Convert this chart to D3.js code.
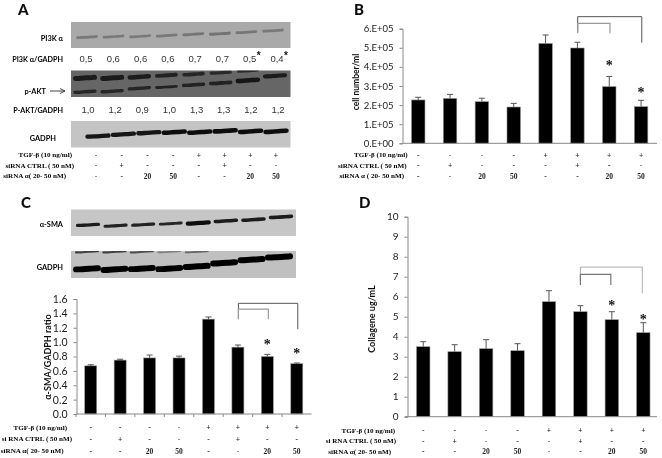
<!DOCTYPE html>
<html>
<head>
<meta charset="utf-8">
<script src="https://cdn.jsdelivr.net/npm/d3@7/dist/d3.min.js"></script>
<style>html,body{margin:0;padding:0;background:#fff}svg{display:block}</style>
</head>
<body>
<svg id="c" width="662" height="458"></svg>
<script>
// ---------- bar chart data ----------
const lanes = [1,2,3,4,5,6,7,8];
const cellValues = [2.27,2.35,2.18,1.90,5.23,4.99,2.97,1.92];
const cellErrors = [0.14,0.21,0.18,0.19,0.44,0.30,0.53,0.33];
const cellTicks = ["0.E+00","1.E+05","2.E+05","3.E+05","4.E+05","5.E+05","6.E+05"];
const smaValues = [0.67,0.75,0.78,0.78,1.32,0.93,0.80,0.70];
const smaErrors = [0.015,0.012,0.04,0.025,0.03,0.03,0.03,0.01];
const smaTicks = ["0.0","0.2","0.4","0.6","0.8","1.0","1.2","1.4","1.6"];
const collagenValues = [3.50,3.25,3.40,3.30,5.75,5.25,4.85,4.20];
const collagenErrors = [0.25,0.35,0.45,0.35,0.55,0.30,0.40,0.50];
const collagenTicks = ["0","1","2","3","4","5","6","7","8","9","10"];
// significance marks: [lane, value level]
const cellStars = [[7,4.15],[8,2.76]];
const smaStars = [[7,0.99],[8,0.86]];
const collagenStars = [[7,5.62],[8,4.95]];
// brackets: [right lane, top, left foot, right foot]
const cellBrackets = [[8,6.63,5.85,5.27],[7,6.28,5.76,5.76]];
const smaBrackets = [[8,1.54,1.32,1.18],[7,1.46,1.32,1.32]];
const collagenBrackets = [[8,7.48,6.72,6.17],[7,7.12,6.58,6.58]];
// treatment rows
const rowTgf = ["-","-","-","-","+","+","+","+"];
const rowCtrl = ["-","+","-","-","-","+","-","-"];
const rowSi = ["-","-","20","50","-","-","20","50"];
// ---------- blot data ----------
const pi3kRatios = ["0,5","0,6","0,6","0,6","0,7","0,7","0,5","0,4"];
const pi3kMarks = ["","","","","","","*","*"];
const aktRatios = ["1,0","1,2","0,9","1,0","1,3","1,3","1,2","1,2"];
const pi3kLevels = [.58,.56,.55,.52,.47,.45,.39,.33];
const pi3kDensity = [.45,.45,.45,.45,.55,.6,.5,.45];
const aktUpperLevels = [.28,.28,.24,.18,.14,.08,.01,-.1];
const aktUpperDensity = [1,1,.85,.7,.6,.5,.4,0];
const aktLowerLevels = [.80,.78,.67,.62,.54,.47,.37,.20];
const aktLowerDensity = [.6,.6,.6,.45,.65,.7,1,.85];
const gapdhALevels = [.57,.50,.44,.42,.42,.37,.39,.39];
const gapdhADensity = [.8,.8,.85,.9,.9,1,.95,.95];
const smaBlotLevels = [.58,.61,.57,.53,.51,.43,.38,.28];
const smaBlotDensity = [.55,.5,.5,.4,.9,.65,.65,.65];
const gapdhCLevels = [.66,.68,.65,.65,.57,.44,.32,.22];
const gapdhCDensity = [.95,.95,.95,.95,1,1,1,1];
const gapdhCTopLevels = [.03,.03,.03,.03,.03,-.2,-.2,-.2];
const gapdhCTopDensity = [.6,.6,.5,.12,.3,0,0,0];

const svg = d3.select("#c");
const defs = svg.append("defs");
defs.append("filter").attr("id","soft").attr("x","-5%").attr("y","-5%").attr("width","110%").attr("height","110%")
  .append("feGaussianBlur").attr("stdDeviation",0.45);
defs.append("filter").attr("id","band").attr("x","-20%").attr("y","-200%").attr("width","140%").attr("height","500%")
  .append("feGaussianBlur").attr("stdDeviation",0.75);
const root = svg.append("g").attr("filter","url(#soft)");
root.append("rect").attr("width",662).attr("height",458).attr("fill","#fff");

const SANS = "Lato, 'Open Sans', sans-serif";
const SERIF = "'Liberation Serif', serif";

function label(x,y,t,o={}){
  return root.append("text").attr("x",x).attr("y",y).attr("dy","0.35em")
    .attr("text-anchor",o.anchor||"end")
    .attr("font-family",o.family||SANS).attr("font-weight",o.weight||"700")
    .attr("font-size",o.size||9).attr("fill",o.fill||"#000").text(t);
}
function letter(x,y,t){
  root.append("text").attr("x",x).attr("y",y).attr("font-family",SANS)
    .attr("font-weight",900).attr("font-size",15).attr("fill","#111").text(t);
}
let clipId = 0;
function blot(box,bg,laneRange,bands){
  const g = root.append("g");
  const id = "blot"+(clipId++);
  defs.append("clipPath").attr("id",id).append("rect").attr("x",box.x0).attr("y",box.y0).attr("width",box.x1-box.x0).attr("height",box.y1-box.y0);
  g.append("rect").attr("x",box.x0).attr("y",box.y0).attr("width",box.x1-box.x0).attr("height",box.y1-box.y0).attr("fill",bg);
  const x = d3.scalePoint().domain(lanes).range(laneRange);
  const y = d3.scaleLinear().domain([0,1]).range([box.y0,box.y1]);
  const inner = g.append("g").attr("clip-path",`url(#${id})`);
  bands.forEach(b=>{
    const thick = d3.scaleLinear().domain([0,1]).range([b.min,b.max]);
    const op = d3.scaleLinear().domain([0,1]).range([b.opMin,1]);
    const line = d3.line().curve(d3.curveBasis);
    inner.append("g").attr("filter","url(#band)").selectAll("path")
      .data(lanes.filter((d,i)=>b.density[i]>0.02)).join("path")
      .attr("d",(d)=>{
        const i=d-1, cy=y(b.levels[i]), cx=x(d), w=b.half;
        return line([[cx-w,cy+0.6],[cx-w/2,cy+0.5],[cx+w/2,cy-0.3],[cx+w,cy-0.6]]);
      })
      .attr("fill","none").attr("stroke",b.color).attr("stroke-linecap","round")
      .attr("stroke-width",(d)=>thick(b.density[d-1]))
      .attr("stroke-opacity",(d)=>op(b.density[d-1]));
  });
}
function rows(rowsDef,xOf){
  rowsDef.forEach(r=>{
    label(r.end,r.y,r.text,{family:SERIF,size:r.size||7.1});
    r.cells.forEach((c,i)=>{
      root.append("text").attr("x",xOf(i+1)).attr("y",r.y).attr("dy","0.35em").attr("text-anchor","middle")
        .attr("font-family",SERIF).attr("font-weight",700).attr("font-size",7.5).attr("fill","#222").text(c);
    });
  });
}
function chart(o){
  const y = d3.scaleLinear().domain(o.domain).range([o.y0,o.y1]);
  const x = d3.scaleBand().domain(lanes).range([o.x0,o.x1]).paddingInner(0).paddingOuter(0);
  const g = root.append("g");
  const cx = d=>x(d)+x.bandwidth()/2;
  g.selectAll("rect.bar").data(lanes).join("rect").attr("class","bar")
    .attr("x",d=>cx(d)-o.barW/2).attr("width",o.barW)
    .attr("y",d=>y(o.values[d-1])).attr("height",d=>y(0)-y(o.values[d-1]))
    .attr("fill","#000").attr("stroke","#999").attr("stroke-width",0.6);
  const e = g.append("g").attr("stroke","#555").attr("stroke-width",1);
  e.selectAll("line.v").data(lanes).join("line").attr("class","v")
    .attr("x1",cx).attr("x2",cx).attr("y1",d=>y(o.values[d-1])).attr("y2",d=>y(o.values[d-1]+o.errors[d-1]));
  e.selectAll("line.c").data(lanes).join("line").attr("class","c")
    .attr("x1",d=>cx(d)-3).attr("x2",d=>cx(d)+3)
    .attr("y1",d=>y(o.values[d-1]+o.errors[d-1])).attr("y2",d=>y(o.values[d-1]+o.errors[d-1]));
  const tickVals = d3.range(o.ticks.length).map(i=>o.domain[0]+i*o.tickStep);
  const axY = g.append("g").attr("transform",`translate(${o.axisX},0)`)
    .call(d3.axisLeft(y).tickValues(tickVals).tickFormat((d,i)=>o.ticks[i]).tickSize(3).tickPadding(o.tickPad||5));
  axY.selectAll("path,line").attr("stroke","#888");
  axY.selectAll("text").attr("font-family",SANS).attr("font-size",o.tickSize||10).attr("fill","#222");
  const axX = g.append("g").attr("transform",`translate(0,${o.y0})`)
    .call(d3.axisBottom(x).tickValues([]).tickSize(0));
  axX.select("path").attr("stroke","#888").attr("d",`M${o.axisX0},0H${o.axisX1}`);
  if(o.xTicks){
    g.selectAll("line.xt").data(lanes).join("line").attr("class","xt")
      .attr("x1",d=>x(d)).attr("x2",d=>x(d)).attr("y1",o.y0).attr("y2",o.y0+3).attr("stroke","#888");
  }
  g.selectAll("text.star").data(o.stars).join("text").attr("class","star")
    .attr("x",d=>cx(d[0])).attr("y",d=>y(d[1])+6).attr("text-anchor","middle")
    .attr("font-family",SERIF).attr("font-weight",700).attr("font-size",14).attr("fill","#111").text("*");
  o.brackets.forEach((b,i)=>{
    const p = d3.path();
    p.moveTo(cx(6)+o.brOff,y(b[2])); p.lineTo(cx(6)+o.brOff,y(b[1]));
    p.lineTo(cx(b[0])+o.brOff2,y(b[1])); p.lineTo(cx(b[0])+o.brOff2,y(b[3]));
    g.append("path").attr("d",p.toString()).attr("fill","none").attr("stroke",o.brColors[i]).attr("stroke-width",i===0?1:1.2);
  });
  root.append("text").attr("transform",`translate(${o.titleX},${o.titleY}) rotate(-90)`)
    .attr("text-anchor","middle").attr("dy","0.35em").attr("font-family",SANS)
    .attr("font-weight",700).attr("font-size",o.titleSize||9).attr("fill","#111").text(o.title);
  return cx;
}

// ---------- Panel A ----------
letter(18,15,"A");
blot({x0:71,x1:290.5,y0:22,y1:48},"#a9a9a9",[87,273],[
  {levels:pi3kLevels,density:pi3kDensity,color:"#666",min:2,max:3.6,half:9.5,opMin:.5}]);
blot({x0:71,x1:290.5,y0:70.5,y1:97},"#666",[85,275],[
  {levels:aktUpperLevels,density:aktUpperDensity,color:"#1a1a1a",min:1.5,max:5,half:9.5,opMin:.6},
  {levels:aktLowerLevels,density:aktLowerDensity,color:"#141414",min:1.5,max:4.5,half:10,opMin:.6}]);
blot({x0:71,x1:290.5,y0:121,y1:147.5},"#c4c4c4",[98,276],[
  {levels:gapdhALevels,density:gapdhADensity,color:"#0d0d0d",min:3,max:4.6,half:10.5,opMin:.8}]);
label(63,38,"PI3K α",{size:7.4});
label(63,59,"PI3K α/GADPH",{size:7.2});
label(46,91,"p-AKT",{size:7.4});
label(63,110,"P-AKT/GADPH",{size:7.2});
label(56,138,"GADPH",{size:7.4});
root.append("path").attr("d",d3.line()([[50,91],[65,91]])).attr("stroke","#444").attr("fill","none");
root.append("path").attr("d",d3.line()([[60,88.5],[65,91],[60,93.5]])).attr("stroke","#444").attr("fill","none");
const rA = d3.scalePoint().domain(lanes).range([86,277]);
const rA2 = d3.scalePoint().domain(lanes).range([88,278]);
lanes.forEach((d,i)=>{
  root.append("text").attr("x",rA(d)).attr("y",59).attr("dy","0.35em").attr("text-anchor","middle")
    .attr("font-family","'Liberation Sans',sans-serif").attr("font-size",9.5).attr("fill","#333").text(pi3kRatios[i]);
  if(pi3kMarks[i]) root.append("text").attr("x",rA(d)+9).attr("y",59).attr("text-anchor","middle")
    .attr("font-family","'Liberation Sans',sans-serif").attr("font-weight",700).attr("font-size",10).attr("fill","#111").text(pi3kMarks[i]);
  root.append("text").attr("x",rA2(d)).attr("y",110).attr("dy","0.35em").attr("text-anchor","middle")
    .attr("font-family","'Liberation Sans',sans-serif").attr("font-size",9.5).attr("fill","#333").text(aktRatios[i]);
});
rows([
  {end:72,y:155,text:"TGF-β (10 ng/ml)",cells:rowTgf},
  {end:74,y:165.5,text:"siRNA  CTRL  ( 50 nM)",cells:rowCtrl},
  {end:66,y:176,text:"siRNA α( 20- 50 nM)",cells:rowSi}
], d3.scalePoint().domain(lanes).range([96,276]));

// ---------- Panel B ----------
letter(354,15,"B");
const cxB = chart({values:cellValues,errors:cellErrors,ticks:cellTicks,domain:[0,6],tickStep:1,
  x0:402.3,x1:657,y0:143.3,y1:28.7,axisX:402.5,axisX0:402.5,axisX1:657,barW:13.5,stars:cellStars,
  brackets:cellBrackets,brOff:0.3,brOff2:0.7,brColors:["#555","#999"],title:"cell number/ml",titleSize:8.5,titleX:356,titleY:82,tickPad:6,tickSize:9.5});
rows([
  {end:407.5,y:155,text:"TGF-β (10 ng/ml)",cells:rowTgf},
  {end:406.5,y:165.5,text:"siRNA  CTRL  ( 50 nM)",cells:rowCtrl},
  {end:404,y:176,text:"siRNA α ( 20- 50 nM)",cells:rowSi}
], cxB);

// ---------- Panel C ----------
letter(21,208,"C");
blot({x0:71,x1:296,y0:209.5,y1:236},"#c6c6c6",[88,281],[
  {levels:smaBlotLevels,density:smaBlotDensity,color:"#0d0d0d",min:1.8,max:4.5,half:10.5,opMin:.8}]);
blot({x0:71,x1:296,y0:251,y1:278},"#c0c0c0",[87,279],[
  {levels:gapdhCTopLevels,density:gapdhCTopDensity,color:"#111",min:1.5,max:2.5,half:11,opMin:.3},
  {levels:gapdhCLevels,density:gapdhCDensity,color:"#050505",min:4,max:6,half:11,opMin:.9}]);
label(63,224,"α-SMA",{size:7.4});
label(63,267.5,"GADPH",{size:7.4});
const cxC = chart({values:smaValues,errors:smaErrors,ticks:smaTicks,domain:[0,1.6],tickStep:0.2,
  x0:76,x1:311.5,y0:414,y1:299,axisX:76.5,axisX0:76,axisX1:311.5,barW:12,stars:smaStars,xTicks:true,
  brackets:smaBrackets,brOff:0.5,brOff2:1,brColors:["#555","#999"],title:"α-SMA/GADPH ratio",titleX:48,titleY:357,tickPad:6,tickSize:10.5});
rows([
  {end:67,y:427.5,text:"TGF-β (10 ng/ml)",cells:rowTgf},
  {end:72,y:439,text:"si RNA  CTRL  ( 50 nM)",cells:rowCtrl},
  {end:63.5,y:451,text:"siRNA α( 20- 50 nM)",cells:rowSi}
], cxC);

// ---------- Panel D ----------
letter(359,208,"D");
const cxD = chart({values:collagenValues,errors:collagenErrors,ticks:collagenTicks,domain:[0,10],tickStep:1,
  x0:407.5,x1:659,y0:416.7,y1:216.7,axisX:407.5,axisX0:405,axisX1:657,barW:13.5,stars:collagenStars,
  brackets:collagenBrackets,brOff:0,brOff2:-1,brColors:["#aaa","#777"],title:"Collagene ug/mL",titleX:371.5,titleY:319,tickPad:6});
rows([
  {end:395,y:430.5,text:"TGF-β (10 ng/ml)",cells:rowTgf},
  {end:396,y:441,text:"si RNA  CTRL  ( 50 nM)",cells:rowCtrl},
  {end:391,y:451.5,text:"siRNA α( 20- 50 nM)",cells:rowSi}
], cxD);
</script>
</body>
</html>
